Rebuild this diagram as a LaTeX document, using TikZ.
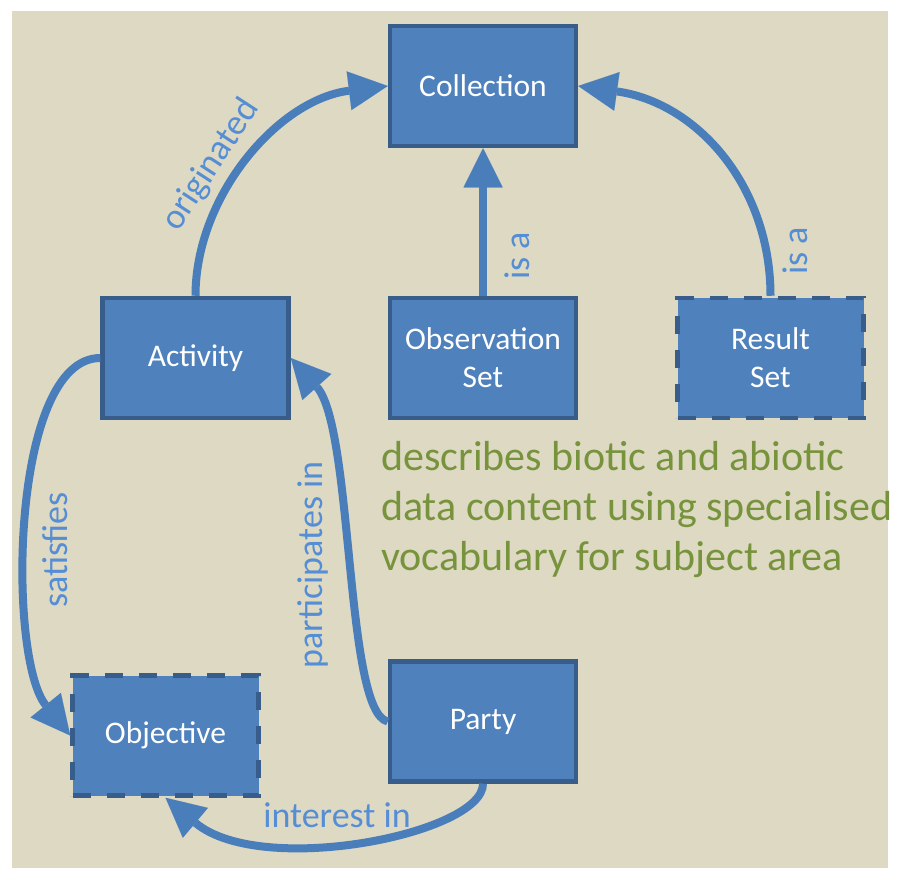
\documentclass[tikz,border=0pt]{standalone}
\usepackage{fontspec}
\setmainfont{Carlito}
\usetikzlibrary{arrows.meta}
\definecolor{bg}{HTML}{DDD9C3}
\definecolor{boxfill}{HTML}{4F81BD}
\definecolor{boxline}{HTML}{385D8A}
\definecolor{arrowc}{HTML}{4A7EBB}
\definecolor{labc}{HTML}{558ED5}
\definecolor{note}{HTML}{77933C}
\begin{document}
\begin{tikzpicture}[x=1pt,y=1pt,
  entity/.style={rectangle, draw=boxline, fill=boxfill, line width=4.5pt,
    minimum width=186pt, minimum height=120pt, text=white,
    font=\fontsize{31.5}{38}\selectfont, align=center, inner sep=0pt},
  optional/.style={entity, dash pattern=on 18pt off 16pt},
  rel/.style={draw=arrowc, line width=8pt,
    -{Triangle[length=39pt,width=39pt,line width=0.01pt]}},
  lab/.style={text=labc, font=\fontsize{36}{40}\selectfont, inner sep=0pt},
]
\useasboundingbox (0,0) rectangle (901,-868);
\fill[white] (0,0) rectangle (901,-868);
\fill[bg] (12,-11) rectangle (888,-868);

\node[entity] (col) at (483,-86) {Collection};
\node[entity] (act) at (195.5,-358) {Activity};
\node[entity] (obs) at (483,-358) {Observation\\Set};
\node[optional] (res) at (770.5,-358) {Result\\Set};
\node[optional] (obj) at (165.5,-735.5) {Objective};
\node[entity] (par) at (483,-721.5) {Party};

\draw[rel] (act.north) to[out=90,in=187,out distance=100,in distance=110] (col.west);
\draw[rel] (obs.north) -- (col.south);
\draw[rel] (res.north) to[out=90,in=-8,out distance=110,in distance=120] (col.east);
\draw[rel] (act.west) to[out=180,in=129,out distance=90,in distance=100] (obj.west);
\draw[rel] (par.west) to[out=168,in=-48,out distance=44,in distance=94] (act.east);
\draw[rel] (par.south) to[out=-90,in=-40,out distance=50,in distance=125] (obj.south);

\node[lab, rotate=57] (l1) at (211,-165) {originated};
\node[lab, rotate=90] (l2) at (517,-256) {is a};
\node[lab, rotate=90] (l3) at (795,-251) {is a};
\node[lab, rotate=90] (l4) at (55,-550) {satisfies};
\node[lab, rotate=90] (l5) at (313,-565) {participates in};
\node[lab] (l6) at (337,-815) {interest in};

\node[anchor=north west, inner sep=0pt, align=left, text=note,
  font=\fontsize{42}{50}\selectfont] (desc) at (381,-441)
  {describes biotic and abiotic\\data content using specialised\\vocabulary for subject area};
\end{tikzpicture}
\end{document}
